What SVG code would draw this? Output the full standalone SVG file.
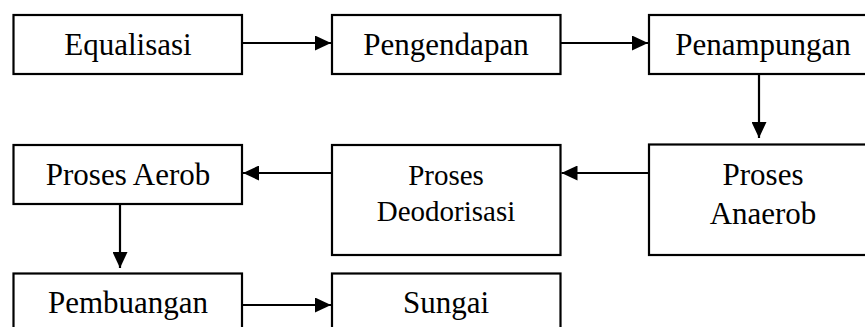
<svg xmlns="http://www.w3.org/2000/svg" width="865" height="327" viewBox="0 0 865 327">
<style>
  .box{fill:#fff;stroke:#000;stroke-width:2.2}
  .t{font-family:"Liberation Serif","Times New Roman",serif;font-size:31px;fill:#000;text-anchor:middle}
  .s{font-size:29px}
  .c{stroke:#000;stroke-width:2.2;fill:none;marker-end:url(#ah)}
</style>
<defs>
  <marker id="ah" markerUnits="userSpaceOnUse" markerWidth="16" markerHeight="15" refX="16" refY="7.5" orient="auto">
    <path d="M0,0 L16,7.5 L0,15 Z" fill="#000"/>
  </marker>
</defs>
<rect width="865" height="327" fill="#fff"/>
<g id="connectors">
  <line class="c" x1="242" y1="43" x2="331" y2="43"/>
  <line class="c" x1="560.5" y1="43" x2="648" y2="43"/>
  <line class="c" x1="759" y1="74" x2="759" y2="138"/>
  <line class="c" x1="649" y1="173" x2="561.5" y2="173"/>
  <line class="c" x1="332" y1="173" x2="243" y2="173"/>
  <line class="c" x1="120" y1="204" x2="120" y2="268"/>
  <line class="c" x1="242" y1="305" x2="331" y2="305"/>
</g>
<g id="equalisasi">
  <rect class="box" x="13.5" y="15" width="228.5" height="59"/>
  <text class="t" x="128" y="55">Equalisasi</text>
</g>
<g id="pengendapan">
  <rect class="box" x="332" y="15" width="228.5" height="59"/>
  <text class="t" x="446" y="55">Pengendapan</text>
</g>
<g id="penampungan">
  <rect class="box" x="649" y="15" width="229" height="59"/>
  <text class="t" x="763" y="55">Penampungan</text>
</g>
<g id="anaerob">
  <rect class="box" x="649" y="144.5" width="229" height="110.5"/>
  <text class="t" x="763" y="185">Proses</text>
  <text class="t" x="763" y="224">Anaerob</text>
</g>
<g id="deodorisasi">
  <rect class="box" x="332" y="145" width="228.5" height="110"/>
  <text class="t s" x="446" y="185">Proses</text>
  <text class="t s" x="446" y="221">Deodorisasi</text>
</g>
<g id="aerob">
  <rect class="box" x="13.5" y="145" width="228.5" height="59"/>
  <text class="t" x="128" y="185">Proses Aerob</text>
</g>
<g id="pembuangan">
  <rect class="box" x="13.5" y="273.5" width="228.5" height="70"/>
  <text class="t" x="128" y="313">Pembuangan</text>
</g>
<g id="sungai">
  <rect class="box" x="332" y="273.5" width="228.5" height="70"/>
  <text class="t" x="446" y="313">Sungai</text>
</g>
</svg>
